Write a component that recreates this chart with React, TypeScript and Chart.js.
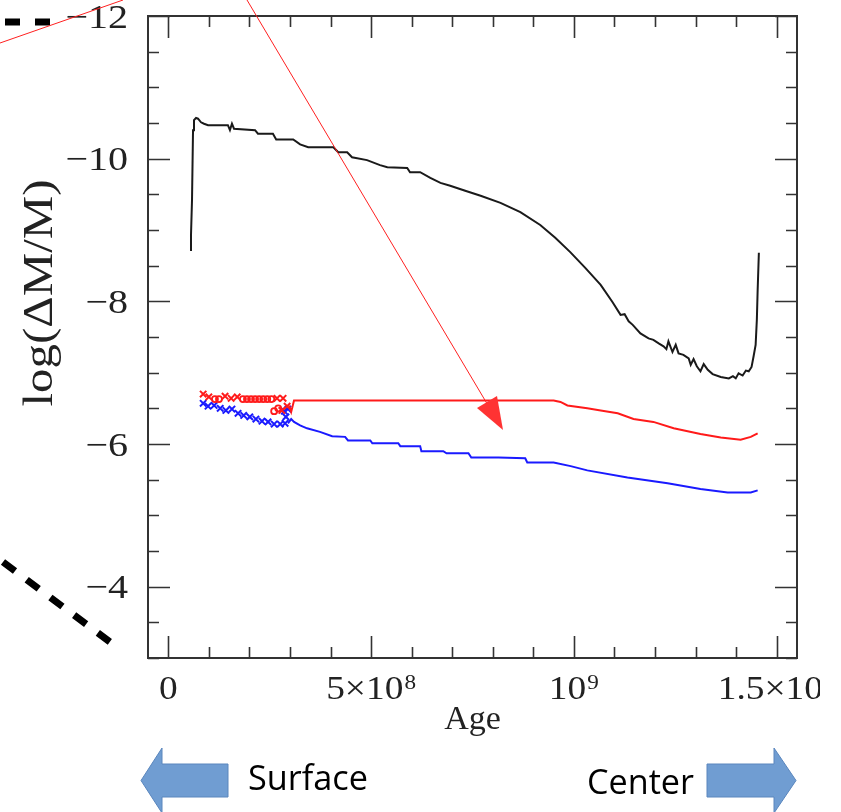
import React, { useEffect, useRef } from "react";
import { Chart, registerables } from "chart.js";

Chart.register(...registerables);

// Ages are in units of 1e8 years
const blackAge = [0.536, 0.56, 0.585, 0.61, 0.634, 0.684, 0.733, 0.807, 0.881, 0.98, 1.47, 1.52, 1.57, 1.62, 2.14, 2.21, 2.58, 2.66, 3.08, 3.25, 3.45, 4.07, 4.19, 4.41, 4.53, 4.9, 5.22, 5.4, 5.89, 5.96, 6.21, 6.46, 6.71, 6.95, 7.32, 7.7, 8.19, 8.68, 9.17, 9.54, 9.91, 10.28, 10.66, 10.95, 11.15, 11.25, 11.35, 11.45, 11.64, 11.84, 11.96, 12.09, 12.21, 12.28, 12.33, 12.43, 12.51, 12.58, 12.7, 12.83, 12.88, 12.95, 13.03, 13.12, 13.2, 13.3, 13.42, 13.62, 13.82, 13.92, 13.99, 14.06, 14.16, 14.24, 14.31, 14.38, 14.43, 14.48, 14.51, 14.53, 14.56];
const blackVal = [-8.72, -8.93, -9.42, -10.4, -10.54, -10.57, -10.56, -10.51, -10.49, -10.47, -10.47, -10.4, -10.49, -10.42, -10.4, -10.35, -10.35, -10.27, -10.27, -10.2, -10.16, -10.16, -10.09, -10.09, -10.02, -9.98, -9.91, -9.88, -9.87, -9.81, -9.81, -9.73, -9.66, -9.62, -9.55, -9.48, -9.38, -9.25, -9.07, -8.89, -8.69, -8.47, -8.23, -7.99, -7.81, -7.82, -7.72, -7.67, -7.55, -7.48, -7.46, -7.41, -7.37, -7.33, -7.44, -7.29, -7.39, -7.27, -7.25, -7.2, -7.11, -7.19, -7.09, -7.02, -7.12, -7.04, -6.98, -6.94, -6.92, -6.95, -6.92, -6.99, -6.96, -7.03, -7.02, -7.08, -7.23, -7.39, -7.74, -8.16, -8.68];

const redAge = [2.98, 3.03, 3.1, 9.5, 9.67, 9.84, 10.33, 10.66, 11.08, 11.47, 11.96, 12.46, 13.12, 13.62, 14.11, 14.36, 14.53];
const redVal = [-6.54, -6.45, -6.61, -6.61, -6.59, -6.54, -6.5, -6.47, -6.43, -6.35, -6.31, -6.22, -6.14, -6.09, -6.06, -6.1, -6.15];

const blueAge = [2.95, 3.03, 3.1, 3.25, 3.42, 3.74, 4.04, 4.36, 4.43, 4.98, 5.03, 5.67, 5.72, 6.21, 6.24, 6.78, 6.86, 7.4, 7.47, 8.14, 8.8, 8.85, 9.5, 9.92, 10.33, 11.32, 12.31, 13.12, 13.79, 14.36, 14.53];
const blueVal = [-6.29, -6.35, -6.31, -6.26, -6.22, -6.17, -6.11, -6.1, -6.05, -6.05, -6.01, -6.01, -5.97, -5.97, -5.9, -5.9, -5.87, -5.87, -5.81, -5.81, -5.8, -5.74, -5.74, -5.69, -5.63, -5.53, -5.45, -5.37, -5.32, -5.32, -5.35];

const redCrossAge = [0.86, 1.0, 1.4, 1.55, 1.7, 2.68, 2.83, 2.93, 2.8];
const redCrossVal = [-6.7, -6.66, -6.67, -6.64, -6.66, -6.64, -6.64, -6.53, -6.47];
const redCircleAge = [1.15, 1.25, 1.84, 1.94, 2.04, 2.14, 2.24, 2.34, 2.44, 2.54, 2.61, 2.71];
const redCircleVal = [-6.63, -6.63, -6.63, -6.63, -6.63, -6.63, -6.63, -6.63, -6.63, -6.63, -6.46, -6.5];

const blueCrossAge = [0.86, 0.98, 1.13, 1.28, 1.42, 1.57, 1.72, 1.86, 2.01, 2.16, 2.31, 2.46, 2.61, 2.76, 2.88, 2.86, 2.95, 2.9];
const blueCrossVal = [-6.57, -6.53, -6.54, -6.5, -6.47, -6.49, -6.43, -6.4, -6.38, -6.35, -6.32, -6.31, -6.28, -6.28, -6.29, -6.46, -6.49, -6.38];

const xTickValues = [0, 5e8, 1e9, 1.5e9];
const xTickLabels = [["0", ""], ["5×10", "8"], ["10", "9"], ["1.5×10", "9"]];
const yTickValues = [-12, -10, -8, -6, -4];
const yTickLabels = ["−12", "−10", "−8", "−6", "−4"];
const xAxisTitle = "Age";
const yAxisTitle = "log(ΔM/M)";
const leftNote = "Surface";
const rightNote = "Center";

const AGE_UNIT = 1e8;
const pts = (a: number[], v: number[]) => a.map((x, i) => ({ x: x * AGE_UNIT, y: v[i] }));

const SERIF = '"Liberation Serif", "DejaVu Serif", serif';
const SANS = '"Open Sans", "Noto Sans", sans-serif';

function drawLabel(ctx: CanvasRenderingContext2D, main: string, sup: string, x: number, y: number, size: number, align: string, stretch: number) {
  ctx.font = `${size}px ${SERIF}`;
  const w1 = ctx.measureText(main).width;
  const supSize = size * 0.62;
  ctx.font = `${supSize}px ${SERIF}`;
  const w2 = sup ? ctx.measureText(sup).width + 1 : 0;
  const total = (w1 + w2) * stretch;
  const x0 = align === "center" ? x - total / 2 : align === "right" ? x - total : x;
  ctx.save();
  ctx.translate(x0, y);
  ctx.scale(stretch, 1);
  ctx.textAlign = "left";
  ctx.textBaseline = "alphabetic";
  ctx.font = `${size}px ${SERIF}`;
  ctx.fillText(main, 0, 0);
  if (sup) {
    ctx.font = `${supSize}px ${SERIF}`;
    ctx.fillText(sup, w1 + 1, -size * 0.3);
  }
  ctx.restore();
}

function drawFit(ctx: CanvasRenderingContext2D, text: string, font: string, x: number, y: number, width: number) {
  ctx.save();
  ctx.font = font;
  const w = ctx.measureText(text).width;
  ctx.translate(x, y);
  ctx.scale(width / w, 1);
  ctx.textAlign = "left";
  ctx.textBaseline = "alphabetic";
  ctx.fillText(text, 0, 0);
  ctx.restore();
}

const decor = {
  id: "decor",
  afterDraw(chart: any) {
    const ctx: CanvasRenderingContext2D = chart.ctx;
    const { left, right, top, bottom } = chart.chartArea;
    const xs = chart.scales.x;
    const ys = chart.scales.y;
    ctx.save();
    // frame
    ctx.strokeStyle = "#333";
    ctx.lineWidth = 2;
    ctx.strokeRect(left, top, right - left, bottom - top);
    // x ticks (inward, bottom + top)
    ctx.lineWidth = 1.6;
    for (let i = 0; i <= 15; i++) {
      const px = Math.round(xs.getPixelForValue(i * 1e8)) + 0.5;
      const len = i % 5 === 0 ? 22 : 11;
      ctx.beginPath();
      ctx.moveTo(px, bottom);
      ctx.lineTo(px, bottom - len);
      ctx.moveTo(px, top);
      ctx.lineTo(px, top + len);
      ctx.stroke();
    }
    // y ticks
    for (let i = 0; i <= 18; i++) {
      const v = -12 + i * 0.5;
      const py = Math.round(ys.getPixelForValue(v)) + 0.5;
      const len = i % 4 === 0 ? 22 : 11;
      ctx.beginPath();
      ctx.moveTo(left, py);
      ctx.lineTo(left + len, py);
      ctx.moveTo(right, py);
      ctx.lineTo(right - len, py);
      ctx.stroke();
    }
    // tick labels
    ctx.fillStyle = "#222";
    yTickValues.forEach((v, i) => {
      const py = ys.getPixelForValue(v);
      drawLabel(ctx, yTickLabels[i], "", 128, py + 11.5, 34, "right", 1.18);
    });
    ctx.save();
    ctx.beginPath();
    ctx.rect(0, 0, 820, 812);
    ctx.clip();
    xTickValues.forEach((v, i) => {
      const px = xs.getPixelForValue(v);
      drawLabel(ctx, xTickLabels[i][0], xTickLabels[i][1], px, 699, 34, "center", 1.1);
    });
    ctx.restore();
    // axis titles
    ctx.font = `34px ${SERIF}`;
    ctx.textAlign = "center";
    ctx.textBaseline = "alphabetic";
    ctx.fillText(xAxisTitle, (left + right) / 2, 729);
    ctx.save();
    ctx.translate(52, 293);
    ctx.rotate(-Math.PI / 2);
    ctx.font = `42px ${SERIF}`;
    const tw = ctx.measureText(yAxisTitle).width;
    ctx.scale(227 / tw, 1);
    ctx.textAlign = "center";
    ctx.fillText(yAxisTitle, 0, 0);
    ctx.restore();

    // overlay annotations
    ctx.strokeStyle = "#000";
    ctx.lineWidth = 7;
    ctx.setLineDash([15, 15]);
    ctx.beginPath();
    ctx.moveTo(5, 22);
    ctx.lineTo(50, 22);
    ctx.stroke();
    ctx.setLineDash([15, 14.6]);
    ctx.beginPath();
    ctx.moveTo(3, 562);
    ctx.lineTo(110, 642);
    ctx.stroke();
    ctx.setLineDash([]);
    ctx.strokeStyle = "#ff2020";
    ctx.lineWidth = 1;
    ctx.beginPath();
    ctx.moveTo(0, 43);
    ctx.lineTo(123, 0);
    ctx.stroke();
    ctx.beginPath();
    ctx.moveTo(247, 0);
    ctx.lineTo(492, 412);
    ctx.stroke();
    ctx.fillStyle = "#ff3333";
    ctx.beginPath();
    ctx.moveTo(503, 430);
    ctx.lineTo(477, 408);
    ctx.lineTo(497, 396);
    ctx.closePath();
    ctx.fill();

    // blue block arrows
    ctx.fillStyle = "#709dd2";
    ctx.strokeStyle = "#5a86bd";
    ctx.lineWidth = 1;
    ctx.beginPath();
    ctx.moveTo(141, 780.5);
    ctx.lineTo(162, 748);
    ctx.lineTo(162, 764);
    ctx.lineTo(228, 764);
    ctx.lineTo(228, 797);
    ctx.lineTo(162, 797);
    ctx.lineTo(162, 813);
    ctx.closePath();
    ctx.fill();
    ctx.stroke();
    ctx.beginPath();
    ctx.moveTo(796, 780.5);
    ctx.lineTo(774, 748);
    ctx.lineTo(774, 764);
    ctx.lineTo(707, 764);
    ctx.lineTo(707, 797);
    ctx.lineTo(774, 797);
    ctx.lineTo(774, 813);
    ctx.closePath();
    ctx.fill();
    ctx.stroke();

    ctx.fillStyle = "#000";
    drawFit(ctx, leftNote, `34px ${SANS}`, 248, 790, 120);
    drawFit(ctx, rightNote, `34px ${SANS}`, 587, 794, 107);
    ctx.restore();
  },
};

export default function App() {
  const ref = useRef<HTMLCanvasElement | null>(null);
  useEffect(() => {
    if (!ref.current) return;
    const chart = new Chart(ref.current, {
      type: "scatter",
      data: {
        datasets: [
          { data: pts(blackAge, blackVal), showLine: true, borderColor: "#1a1a1a", borderWidth: 2, pointRadius: 0, tension: 0 },
          { data: pts(redAge, redVal), showLine: true, borderColor: "#ff1a1a", borderWidth: 2, pointRadius: 0, tension: 0 },
          { data: pts(blueAge, blueVal), showLine: true, borderColor: "#1a1aff", borderWidth: 2, pointRadius: 0, tension: 0 },
          { data: pts(redCrossAge, redCrossVal), showLine: false, pointStyle: "crossRot", pointRadius: 4.5, borderColor: "#ff1a1a", borderWidth: 2 },
          { data: pts(redCircleAge, redCircleVal), showLine: false, pointStyle: "circle", pointRadius: 3, borderColor: "#ff1a1a", backgroundColor: "rgba(0,0,0,0)", borderWidth: 1.8 },
          { data: pts(blueCrossAge, blueCrossVal), showLine: false, pointStyle: "crossRot", pointRadius: 4.5, borderColor: "#1a1aff", borderWidth: 2 },
        ],
      } as any,
      options: {
        animation: false,
        responsive: false,
        devicePixelRatio: 1,
        events: [],
        layout: { padding: { left: 148, right: 44, top: 16, bottom: 154 } },
        plugins: { legend: { display: false }, tooltip: { enabled: false } },
        scales: {
          x: { type: "linear", min: -0.5e8, max: 15.5e8, display: false },
          y: { type: "linear", min: -12, max: -3, reverse: true, display: false },
        },
      } as any,
      plugins: [decor],
    });
    return () => chart.destroy();
  }, []);
  return (
    <div style={{ position: "absolute", left: 0, top: 0, width: 841, height: 812, background: "#fff" }}>
      <canvas ref={ref} width={841} height={812} style={{ width: 841, height: 812, display: "block" }} />
    </div>
  );
}
